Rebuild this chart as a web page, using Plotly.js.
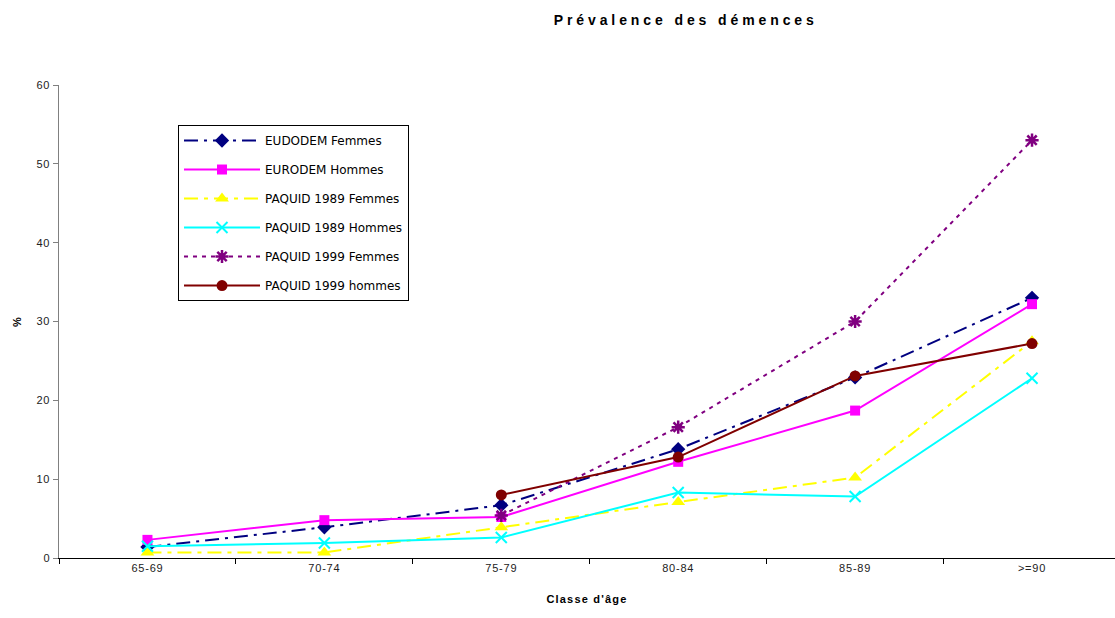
<!DOCTYPE html>
<html>
<head>
<meta charset="utf-8">
<script src="https://cdn.plot.ly/plotly-3.0.1.min.js"></script>
<style>
html,body{margin:0;padding:0;background:#fff;}
#chart .gtitle{letter-spacing:3.9px;}
#chart .xtick text, #chart .ytick text{letter-spacing:0.8px;}
#chart .xtitle, #chart .ytitle{letter-spacing:1.2px;}
</style>
</head>
<body>
<div id="chart" style="width:1115px;height:618px;"></div>
<script>
const categories = ["65-69", "70-74", "75-79", "80-84", "85-89", ">=90"];
const eudodemFemmes = [1.4, 3.9, 6.7, 13.8, 22.9, 33.0];
const eurodemHommes = [2.3, 4.8, 5.2, 12.2, 18.7, 32.2];
const paquid89Femmes = [0.7, 0.7, 3.9, 7.1, 10.2, 27.5];
const paquid89Hommes = [1.5, 1.9, 2.6, 8.3, 7.8, 22.8];
const paquid99Femmes = [null, null, 5.4, 16.6, 30.0, 53.0];
const paquid99Hommes = [null, null, 8.0, 12.8, 23.1, 27.2];
const seriesNames = ["EUDODEM Femmes", "EURODEM Hommes", "PAQUID 1989 Femmes", "PAQUID 1989 Hommes", "PAQUID 1999 Femmes", "PAQUID 1999 hommes"];

function tr(name, y, color, dash, symbol, size, mline, i) {
  return {
    type: 'scatter', mode: 'lines+markers', x: categories, y: y, name: name,
    legendgroup: 'g' + i, connectgaps: false,
    line: {color: color, width: 2, dash: dash},
    marker: {color: color, symbol: symbol, size: size, line: {color: color, width: mline}}
  };
}
const data = [
  tr(seriesNames[0], eudodemFemmes, '#000080', '14px,6px,3px,6px', 'diamond', 11, 0, 0),
  tr(seriesNames[1], eurodemHommes, '#FF00FF', 'solid', 'square', 10, 0, 1),
  tr(seriesNames[2], paquid89Femmes, '#FFFF00', '14px,6px,4px,6px', 'triangle-up', 12, 0, 2),
  tr(seriesNames[3], paquid89Hommes, '#00FFFF', 'solid', 'x-thin-open', 11, 2, 3),
  tr(seriesNames[4], paquid99Femmes, '#800080', '4px,5px', 'asterisk-open', 11, 2.5, 4),
  tr(seriesNames[5], paquid99Hommes, '#800000', 'solid', 'circle', 11, 0, 5)
];

const sans = 'Liberation Sans, Arial, sans-serif';
const layout = {
  width: 1115, height: 618,
  margin: {l: 59, r: 0, t: 85, b: 60},
  paper_bgcolor: '#fff', plot_bgcolor: '#fff',
  font: {family: sans, size: 11, color: '#000'},
  title: {text: '<b>Prévalence des démences</b>', x: 0.615, xanchor: 'center', y: 0.975, yanchor: 'top',
          font: {family: sans, size: 14, color: '#000'}},
  showlegend: true,
  legend: {x: 0.1127, y: 0.9154, xanchor: 'left', yanchor: 'top', bgcolor: '#fff',
           bordercolor: '#000', borderwidth: 1, itemwidth: 76, tracegroupgap: 10,
           font: {family: 'DejaVu Sans, Verdana, sans-serif', size: 12, color: '#000'}},
  xaxis: {
    type: 'category', range: [-0.5, 5.469], tickson: 'boundaries',
    ticks: 'outside', ticklen: 5, tickcolor: '#000', tickwidth: 1,
    showline: true, linecolor: '#000', linewidth: 1, showgrid: false, zeroline: false,
    tickfont: {family: sans, size: 11, color: '#222'},
    title: {text: '<b>Classe d\'âge</b>', standoff: 22, font: {family: sans, size: 11, color: '#000'}}
  },
  yaxis: {
    range: [0, 60], dtick: 10, ticks: 'outside', ticklen: 5, tickcolor: '#808080', tickwidth: 1,
    showline: true, linecolor: '#808080', linewidth: 1.5, showgrid: false, zeroline: false,
    tickfont: {family: sans, size: 11, color: '#222'},
    title: {text: '<b>%</b>', standoff: 14, font: {family: sans, size: 11, color: '#000'}}
  }
};
Plotly.newPlot('chart', data, layout, {displayModeBar: false, staticPlot: true});
</script>
</body>
</html>
